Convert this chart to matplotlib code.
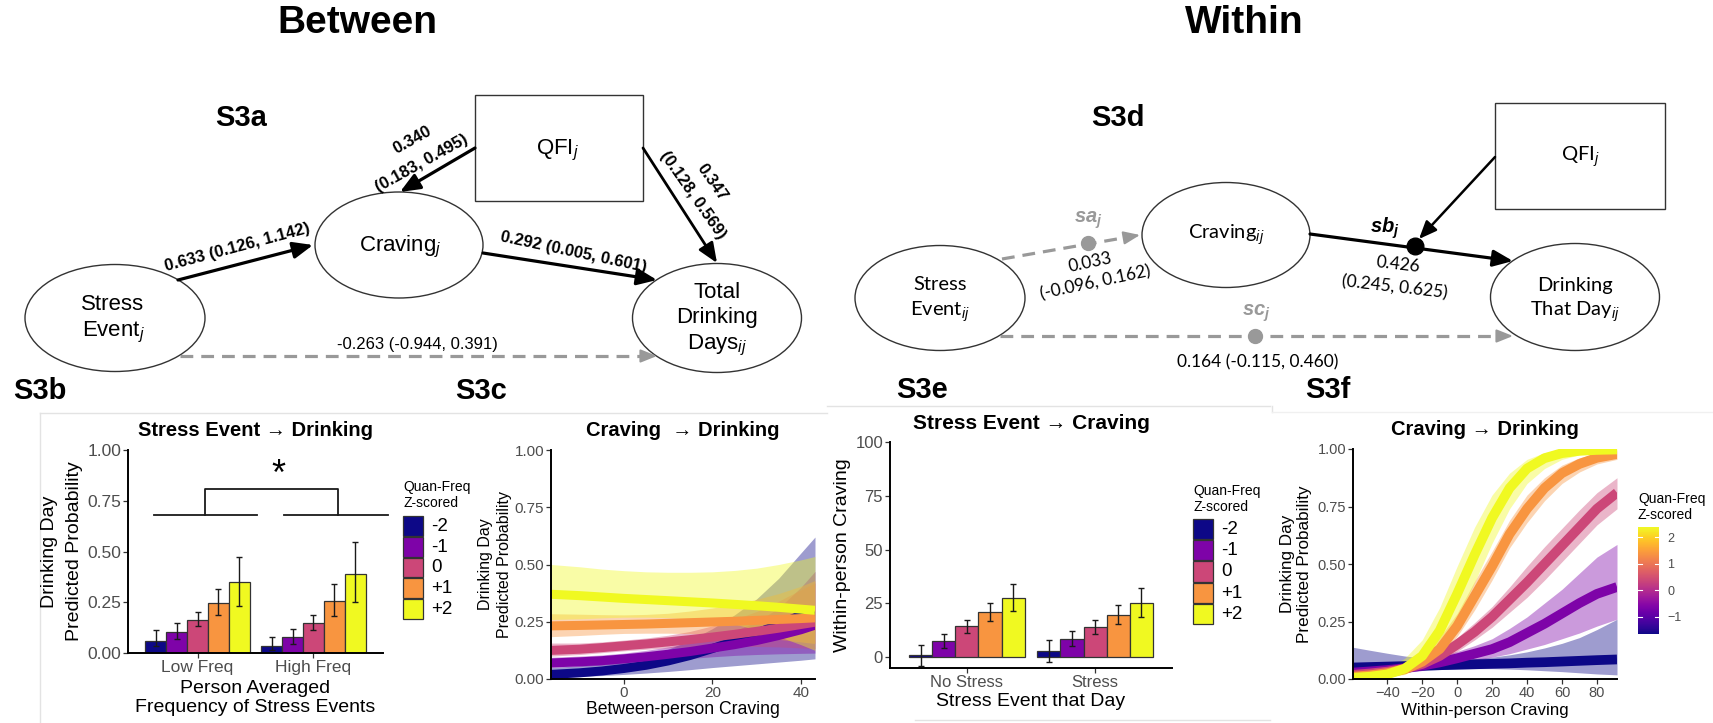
import numpy as np
import matplotlib
matplotlib.use("Agg")
import matplotlib.pyplot as plt
from matplotlib.patches import Ellipse, Rectangle
from matplotlib.colors import Normalize
from matplotlib.cm import ScalarMappable

plt.rcParams['font.family'] = ['Liberation Sans', 'DejaVu Sans']
plt.rcParams['mathtext.fontset'] = 'custom'
plt.rcParams['mathtext.rm'] = 'Liberation Sans'
plt.rcParams['mathtext.it'] = 'Liberation Sans:italic'
plt.rcParams['mathtext.bf'] = 'Liberation Sans:bold'
plt.rcParams['mathtext.bfit'] = 'Liberation Sans:italic:bold'

# ---- data ----
levels = ['-2', '-1', '0', '+1', '+2']
level_colors = ['#0d0887', '#7e03a8', '#cc4778', '#f89540', '#f0f921']

# S3b: drinking day probability by stress frequency group (rows) and QFI level (cols)
s3b_groups = ['Low Freq', 'High Freq']
s3b_mean = [[0.061, 0.102, 0.164, 0.246, 0.348],
            [0.036, 0.077, 0.148, 0.254, 0.390]]
s3b_low = [[0.033, 0.069, 0.131, 0.185, 0.233],
           [0.013, 0.046, 0.115, 0.184, 0.249]]
s3b_high = [[0.115, 0.148, 0.202, 0.316, 0.472],
            [0.079, 0.118, 0.189, 0.339, 0.549]]

# S3c: between-person craving curves
s3c_x = [-16.5, -10, -5, 0, 5, 10, 15, 20, 25, 30, 35, 40, 43.2]
s3c_fit = [[0.020, 0.027, 0.035, 0.046, 0.060, 0.079, 0.103, 0.133, 0.165, 0.200, 0.238, 0.278, 0.300],
           [0.070, 0.075, 0.080, 0.088, 0.097, 0.108, 0.120, 0.135, 0.150, 0.168, 0.190, 0.215, 0.235],
           [0.125, 0.130, 0.137, 0.145, 0.153, 0.162, 0.172, 0.183, 0.195, 0.208, 0.222, 0.238, 0.248],
           [0.232, 0.234, 0.236, 0.238, 0.240, 0.243, 0.246, 0.249, 0.252, 0.256, 0.260, 0.264, 0.267],
           [0.370, 0.364, 0.358, 0.352, 0.347, 0.342, 0.337, 0.332, 0.326, 0.320, 0.313, 0.305, 0.300]]
s3c_lo = [[0.007, 0.011, 0.015, 0.020, 0.026, 0.033, 0.041, 0.050, 0.058, 0.066, 0.074, 0.082, 0.088],
          [0.050, 0.055, 0.060, 0.067, 0.075, 0.082, 0.090, 0.097, 0.103, 0.107, 0.110, 0.112, 0.113],
          [0.100, 0.107, 0.115, 0.123, 0.130, 0.136, 0.140, 0.142, 0.143, 0.142, 0.140, 0.136, 0.133],
          [0.185, 0.190, 0.195, 0.199, 0.200, 0.200, 0.198, 0.195, 0.190, 0.183, 0.173, 0.162, 0.155],
          [0.260, 0.263, 0.267, 0.270, 0.270, 0.268, 0.262, 0.253, 0.240, 0.215, 0.185, 0.150, 0.125]]
s3c_hi = [[0.050, 0.058, 0.068, 0.080, 0.100, 0.130, 0.170, 0.220, 0.280, 0.350, 0.440, 0.550, 0.620],
          [0.095, 0.100, 0.105, 0.113, 0.125, 0.140, 0.158, 0.180, 0.210, 0.250, 0.310, 0.400, 0.470],
          [0.157, 0.157, 0.162, 0.170, 0.179, 0.191, 0.208, 0.232, 0.260, 0.295, 0.340, 0.390, 0.420],
          [0.285, 0.283, 0.281, 0.280, 0.282, 0.287, 0.297, 0.310, 0.327, 0.348, 0.373, 0.405, 0.430],
          [0.500, 0.490, 0.480, 0.473, 0.468, 0.466, 0.466, 0.468, 0.474, 0.484, 0.500, 0.520, 0.535]]

# S3e: within-person craving by stress day (rows) and QFI level (cols)
s3e_groups = ['No Stress', 'Stress']
s3e_mean = [[0.8, 7.4, 14.3, 20.9, 27.6],
            [2.6, 8.5, 14.1, 19.7, 25.1]]
s3e_low = [[-4.3, 4.2, 11.2, 16.6, 21.2],
           [-2.3, 5.0, 10.9, 15.2, 18.6]]
s3e_high = [[5.7, 10.9, 17.4, 25.3, 34.1],
            [8.1, 11.9, 17.2, 24.2, 31.9]]

# S3f: within-person craving curves
s3f_x = [-59.6, -50, -40, -30, -20, -10, 0, 10, 20, 30, 40, 50, 60, 70, 80, 91.5]
s3f_fit = [[0.050, 0.052, 0.054, 0.056, 0.058, 0.060, 0.062, 0.064, 0.066, 0.068, 0.071, 0.073, 0.076, 0.079, 0.082, 0.085],
           [0.028, 0.033, 0.039, 0.047, 0.058, 0.072, 0.090, 0.110, 0.130, 0.160, 0.200, 0.240, 0.285, 0.330, 0.370, 0.400],
           [0.018, 0.024, 0.032, 0.045, 0.065, 0.100, 0.150, 0.205, 0.270, 0.345, 0.420, 0.500, 0.580, 0.660, 0.740, 0.810],
           [0.010, 0.016, 0.026, 0.042, 0.075, 0.130, 0.230, 0.360, 0.490, 0.630, 0.740, 0.830, 0.895, 0.935, 0.962, 0.978],
           [0.005, 0.010, 0.020, 0.045, 0.100, 0.210, 0.370, 0.540, 0.700, 0.830, 0.915, 0.960, 0.982, 0.992, 0.996, 0.998]]
s3f_lo = [[0.015, 0.020, 0.026, 0.032, 0.037, 0.041, 0.044, 0.045, 0.045, 0.043, 0.040, 0.036, 0.032, 0.027, 0.022, 0.018],
          [0.012, 0.016, 0.021, 0.028, 0.037, 0.050, 0.065, 0.080, 0.095, 0.110, 0.130, 0.150, 0.175, 0.200, 0.230, 0.260],
          [0.008, 0.012, 0.018, 0.028, 0.045, 0.075, 0.120, 0.170, 0.225, 0.290, 0.355, 0.430, 0.510, 0.590, 0.670, 0.740],
          [0.004, 0.007, 0.013, 0.025, 0.050, 0.100, 0.185, 0.300, 0.430, 0.570, 0.680, 0.775, 0.850, 0.900, 0.935, 0.955],
          [0.001, 0.003, 0.007, 0.020, 0.055, 0.130, 0.260, 0.420, 0.590, 0.740, 0.850, 0.915, 0.955, 0.975, 0.985, 0.990]]
s3f_hi = [[0.138, 0.125, 0.112, 0.100, 0.092, 0.087, 0.085, 0.088, 0.095, 0.105, 0.118, 0.135, 0.155, 0.180, 0.215, 0.260],
          [0.060, 0.064, 0.069, 0.075, 0.085, 0.100, 0.120, 0.145, 0.175, 0.220, 0.270, 0.330, 0.390, 0.460, 0.530, 0.585],
          [0.038, 0.045, 0.055, 0.070, 0.090, 0.130, 0.180, 0.245, 0.315, 0.400, 0.490, 0.575, 0.655, 0.735, 0.810, 0.875],
          [0.022, 0.032, 0.048, 0.072, 0.115, 0.180, 0.285, 0.425, 0.555, 0.690, 0.800, 0.875, 0.930, 0.962, 0.980, 0.991],
          [0.018, 0.030, 0.048, 0.090, 0.170, 0.310, 0.490, 0.660, 0.800, 0.895, 0.955, 0.984, 0.995, 0.999, 1.000, 1.000]]
colorbar_range = (-1.65, 2.38)
colorbar_ticks = [-1, 0, 1, 2]

W, H = 1713, 723
fig = plt.figure(figsize=(W / 100, H / 100), dpi=100)
ax0 = fig.add_axes([0, 0, 1, 1])
ax0.set_xlim(0, W)
ax0.set_ylim(H, 0)
ax0.axis('off')

CAL = ['Lato', 'DejaVu Sans']


def px_axes(x0, x1, y0, y1):
    return fig.add_axes([x0 / W, (H - y1) / H, (x1 - x0) / W, (y1 - y0) / H])


def txt(x, y, s, size, **kw):
    ax0.text(x, y, s, fontsize=size, ha=kw.pop('ha', 'center'), va=kw.pop('va', 'center'), **kw)


def arrow(x0, y0, x1, y1, lw=2.3, color='black', ms=20):
    ax0.annotate('', xy=(x1, y1), xytext=(x0, y0),
                 arrowprops=dict(arrowstyle='-|>,head_length=0.6,head_width=0.25', color=color,
                                 lw=lw, mutation_scale=ms, shrinkA=0, shrinkB=0))


def dashed_arrow(x0, y0, x1, y1):
    d = np.hypot(x1 - x0, y1 - y0)
    ux, uy = (x1 - x0) / d, (y1 - y0) / d
    ax0.plot([x0, x1 - 9 * ux], [y0, y1 - 9 * uy], color='#999999', lw=2.3, ls=(0, (4, 2.5)))
    ax0.annotate('', xy=(x1, y1), xytext=(x1 - 10 * ux, y1 - 10 * uy),
                 arrowprops=dict(arrowstyle='-|>,head_length=0.55,head_width=0.22', color='#999999',
                                 lw=1.5, mutation_scale=18, shrinkA=0, shrinkB=0))


def node(cx, cy, w, h):
    ax0.add_patch(Ellipse((cx, cy), w, h, fill=False, ec='#333333', lw=1.0))


# ---- headings ----
txt(357, 23, 'Between', 28, fontweight='bold')
txt(1244, 23, 'Within', 28, fontweight='bold')
for lab, x, y in [('S3a', 241, 118), ('S3d', 1118, 118), ('S3b', 40, 391),
                  ('S3c', 481, 391), ('S3e', 922, 390), ('S3f', 1328, 390)]:
    txt(x, y, lab, 21, fontweight='bold')

# ---- S3a diagram ----
node(115, 318, 180, 107)
node(399, 245, 168, 106)
node(717, 318, 169, 109)
ax0.add_patch(Rectangle((475, 95), 168, 106, fill=False, ec='#333333', lw=1.0))
txt(113, 305, 'Stress', 16)
txt(113, 332, 'Event$_j$', 16)
txt(400, 247, 'Craving$_j$', 16)
txt(558, 150, 'QFI$_j$', 16)
txt(717, 292, 'Total', 16)
txt(717, 318, 'Drinking', 16)
txt(717, 345, 'Days$_{ij}$', 16)

arrow(178, 280, 313, 245)
arrow(483, 253, 657, 280)
arrow(475, 148, 400, 192)
arrow(643, 148, 717, 263, lw=2.0)
dashed_arrow(180, 356, 657, 356)
txt(237, 247, '0.633 (0.126, 1.142)', 12, fontweight='bold', rotation=15, rotation_mode='anchor')
txt(574, 252, '0.292 (0.005, 0.601)', 12, fontweight='bold', rotation=-12, rotation_mode='anchor')
txt(412, 140, '0.340', 12, fontweight='bold', rotation=29, rotation_mode='anchor')
txt(422, 163, '(0.183, 0.495)', 12, fontweight='bold', rotation=29, rotation_mode='anchor')
txt(712, 182, '0.347', 12, fontweight='bold', rotation=-55, rotation_mode='anchor')
txt(693, 195, '(0.128, 0.569)', 12, fontweight='bold', rotation=-55, rotation_mode='anchor')
txt(417, 345, '-0.263 (-0.944, 0.391)', 12)

# ---- S3d diagram ----
node(940, 298, 170, 105)
node(1226, 235, 168, 105)
node(1575, 297, 169, 107)
ax0.add_patch(Rectangle((1495, 103), 170, 106, fill=False, ec='#333333', lw=1.0))
txt(940, 285, 'Stress', 14.5, family=CAL)
txt(940, 312, 'Event$_{ij}$', 14.5, family=CAL)
txt(1226, 235, 'Craving$_{ij}$', 14.5, family=CAL)
txt(1575, 285, 'Drinking', 14.5, family=CAL)
txt(1575, 312, 'That Day$_{ij}$', 14.5, family=CAL)
txt(1580, 157, 'QFI$_j$', 14.5, family=CAL)

dashed_arrow(1002, 259, 1140, 235)
dashed_arrow(1000, 336, 1513, 336)
arrow(1310, 234, 1513, 261)
arrow(1495, 157, 1419, 239, lw=1.8, ms=18)
ax0.plot([1088], [243], 'o', color='#999999', ms=10)
ax0.plot([1255], [336], 'o', color='#999999', ms=10)
ax0.plot([1415], [246], 'o', color='black', ms=12)
txt(1088, 220, r'$\mathbfit{sa}_{\mathbfit{j}}$', 14.5, color='#999999')
txt(1256, 313, r'$\mathbfit{sc}_{\mathbfit{j}}$', 14.5, color='#999999')
txt(1385, 228, r'$\mathbfit{sb}_{\mathbfit{j}}$', 14.5, color='black')
txt(1090, 262, '0.033', 12.5, family=CAL, rotation=12, rotation_mode='anchor')
txt(1095, 283, '(-0.096, 0.162)', 12.5, family=CAL, rotation=12, rotation_mode='anchor')
txt(1398, 265, '0.426', 12.5, family=CAL, rotation=-6.5, rotation_mode='anchor')
txt(1395, 287, '(0.245, 0.625)', 12.5, family=CAL, rotation=-6.5, rotation_mode='anchor')
txt(1258, 362, '0.164 (-0.115, 0.460)', 12.5, family=CAL)

# ---- light panel frames ----
fc = '#e3e3e3'
ax0.plot([40, 827], [413, 413], color=fc, lw=1)
ax0.plot([40, 40], [413, 723], color=fc, lw=1)
ax0.plot([827, 1270], [406, 406], color=fc, lw=1)
ax0.plot([915, 1270], [720, 720], color=fc, lw=1)
ax0.plot([1272, 1272], [406, 412], color=fc, lw=1)
ax0.plot([1272, 1713], [412, 412], color='#f0f0f0', lw=1)


def classic(ax, size):
    ax.set_facecolor('none')
    for s in ('top', 'right'):
        ax.spines[s].set_visible(False)
    for s in ('left', 'bottom'):
        ax.spines[s].set_linewidth(1.4)
    ax.tick_params(length=3.5, width=0.9, color='#333333', labelcolor='#4d4d4d',
                   labelsize=size, pad=1.5)


def draw_bars(ax, means, lows, highs):
    n = len(levels)
    w = 0.9 / n
    for k in range(n):
        xs = np.arange(1, len(means) + 1) + (k - (n - 1) / 2) * w
        m = np.array([g[k] for g in means])
        lo = np.array([g[k] for g in lows])
        hi = np.array([g[k] for g in highs])
        ax.bar(xs, m, width=w, color=level_colors[k], edgecolor='#333333', linewidth=0.9, zorder=2)
        ax.errorbar(xs, m, yerr=[m - lo, hi - m], fmt='none', ecolor='#1a1a1a',
                    elinewidth=1.0, capsize=2, capthick=1.0, zorder=3)


def bar_legend(x, y_title, y_keys, kh):
    ax0.text(x, y_title, 'Quan-Freq\nZ-scored', fontsize=10, ha='left', va='center', linespacing=1.1)
    for k, lab in enumerate(levels):
        ax0.add_patch(Rectangle((x, y_keys + k * kh), 20, kh - 1, facecolor=level_colors[k],
                                edgecolor='#333333', lw=0.9))
        ax0.text(x + 28, y_keys + k * kh + kh / 2, lab, fontsize=13.5, ha='left', va='center')


def set_labels(ax, xlab, ylab, xs, ys, xpos, ypos, xls=1.2, yls=1.2):
    ax.set_xlabel(xlab, fontsize=xs, linespacing=xls)
    ax.set_ylabel(ylab, fontsize=ys, linespacing=yls)
    ax.xaxis.set_label_coords(0.5, xpos)
    ax.yaxis.set_label_coords(ypos, 0.5)
    ax.xaxis.label.set_va('center')
    ax.yaxis.label.set_va('center')


# ---- S3b ----
ax = px_axes(128, 383, 450, 653)
draw_bars(ax, s3b_mean, s3b_low, s3b_high)
ax.set_xlim(0.4, 2.6)
ax.set_ylim(0, 1)
ax.set_yticks([0, 0.25, 0.5, 0.75, 1.0], ['0.00', '0.25', '0.50', '0.75', '1.00'])
ax.set_xticks([1, 2], s3b_groups)
classic(ax, 12.5)
ax.set_title('Stress Event \u2192 Drinking', fontsize=14.5, fontweight='bold', y=1.094, va='center', pad=0)
set_labels(ax, 'Person Averaged\nFrequency of Stress Events', 'Drinking Day\nPredicted Probability',
           14, 14, -0.222, -0.259, xls=1.1, yls=1.6)
bk = '#1a1a1a'
ax.plot([0.626, 1.513], [0.68, 0.68], color=bk, lw=1.3, clip_on=False)
ax.plot([1.748, 2.643], [0.68, 0.68], color=bk, lw=1.3, clip_on=False)
ax.plot([1.061, 1.061, 2.209, 2.209], [0.68, 0.81, 0.81, 0.68], color=bk, lw=1.3, clip_on=False)
ax.text(1.696, 0.877, '*', fontsize=26, ha='center', va='center')
bar_legend(403, 495, 516, 20.8)

# ---- S3c ----
ax = px_axes(551, 815, 450, 679)
for k in range(len(levels)):
    ax.fill_between(s3c_x, s3c_lo[k], s3c_hi[k], color=level_colors[k], alpha=0.4, lw=0)
    ax.plot(s3c_x, s3c_fit[k], color=level_colors[k], lw=6.5, solid_capstyle='butt')
ax.set_xlim(-16.5, 43.2)
ax.set_ylim(0, 1)
ax.set_yticks([0, 0.25, 0.5, 0.75, 1.0], ['0.00', '0.25', '0.50', '0.75', '1.00'])
ax.set_xticks([0, 20, 40])
classic(ax, 11)
ax.set_title('Craving  \u2192 Drinking', fontsize=14.5, fontweight='bold', y=1.083, va='center', pad=0)
set_labels(ax, 'Between-person Craving', 'Drinking Day\nPredicted Probability',
           12.7, 11.5, -0.135, -0.212, yls=1.4)

# ---- S3e ----
ax = px_axes(890, 1172, 442, 668)
draw_bars(ax, s3e_mean, s3e_low, s3e_high)
ax.set_xlim(0.4, 2.6)
ax.set_ylim(-5.1, 100)
ax.set_yticks([0, 25, 50, 75, 100])
ax.set_xticks([1, 2], s3e_groups)
classic(ax, 12)
ax.set_title('Stress Event \u2192 Craving', fontsize=15, fontweight='bold', y=1.084, va='center', pad=0)
set_labels(ax, 'Stress Event that Day', 'Within-person Craving', 14, 14, -0.15, -0.167)
bar_legend(1193, 499, 519, 21.2)

# ---- S3f ----
ax = px_axes(1353, 1617, 449, 679)
for k in range(len(levels)):
    ax.fill_between(s3f_x, s3f_lo[k], s3f_hi[k], color=level_colors[k], alpha=0.4, lw=0)
    ax.plot(s3f_x, s3f_fit[k], color=level_colors[k], lw=7, solid_capstyle='butt')
ax.set_xlim(-59.6, 91.5)
ax.set_ylim(0, 1)
ax.set_yticks([0, 0.25, 0.5, 0.75, 1.0], ['0.00', '0.25', '0.50', '0.75', '1.00'])
ax.set_xticks([-40, -20, 0, 20, 40, 60, 80])
classic(ax, 10.5)
ax.set_title('Craving \u2192 Drinking', fontsize=14.5, fontweight='bold', y=1.083, va='center', pad=0)
set_labels(ax, 'Within-person Craving', 'Drinking Day\nPredicted Probability',
           12.2, 12.3, -0.135, -0.216, yls=1.15)

cax = px_axes(1638, 1659, 527, 634)
cb = fig.colorbar(ScalarMappable(norm=Normalize(*colorbar_range), cmap='plasma'), cax=cax)
cb.outline.set_visible(False)
cb.set_ticks(colorbar_ticks)
cax.tick_params(length=0, labelsize=9, labelcolor='#4d4d4d', pad=6)
for t in colorbar_ticks:
    cax.axhline(t, xmin=0, xmax=0.2, color='white', lw=0.8)
    cax.axhline(t, xmin=0.8, xmax=1, color='white', lw=0.8)
ax0.text(1638, 507, 'Quan-Freq\nZ-scored', fontsize=10, ha='left', va='center', linespacing=1.1)

fig.savefig('out.png', dpi=100)
